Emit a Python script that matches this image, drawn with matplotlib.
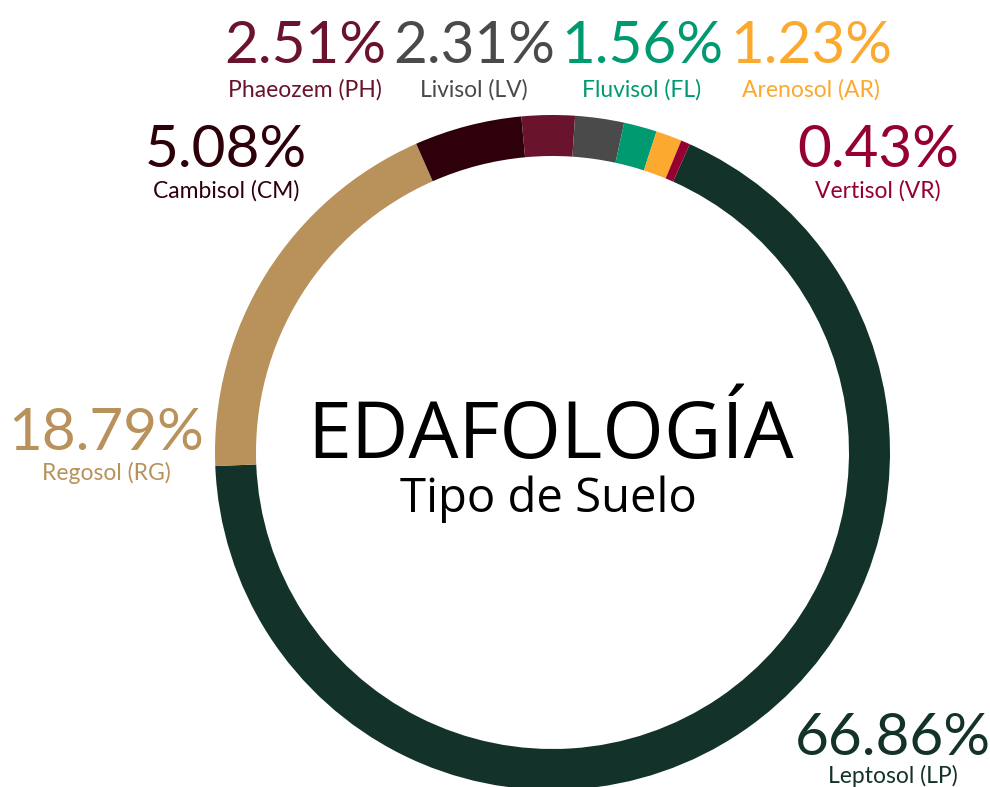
import matplotlib.pyplot as plt

# soil types, clockwise from the top right
soils = ["Leptosol (LP)", "Regosol (RG)", "Cambisol (CM)", "Phaeozem (PH)",
         "Livisol (LV)", "Fluvisol (FL)", "Arenosol (AR)", "Vertisol (VR)"]
shares = [66.86, 18.79, 5.08, 2.51, 2.31, 1.56, 1.23, 0.43]
colors = ["#12322a", "#b8915b", "#2e0009", "#69142c",
          "#4a4a4a", "#009a70", "#fba92f", "#950030"]

# label anchor (x center, baseline of the percent, baseline of the name) in pixels from top-left
label_pos = [(893, 755, 783), (106, 450, 480), (226, 167, 198), (305, 63, 97),
             (474, 63, 97), (642, 63, 97), (811, 63, 97), (878, 167, 198)]

W, H = 990, 787
fig = plt.figure(figsize=(W / 100, H / 100), dpi=100)
ax = fig.add_axes([0, 0, 1, 1])

cx, cy, r = 552.5, H - 452.5, 337.5
ax.pie(shares, colors=colors, radius=r, center=(cx, cy), startangle=66.0,
       counterclock=False, wedgeprops=dict(width=41, linewidth=0), frame=True)
ax.set_xlim(0, W)
ax.set_ylim(0, H)
ax.set_aspect("equal")
ax.axis("off")

font = "Lato"
for name, val, col, (x, yp, yn) in zip(soils, shares, colors, label_pos):
    ax.text(x, H - yp, f"{val:.2f}%", color=col, fontsize=42, family=font,
            ha="center", va="baseline")
    ax.text(x, H - yn, name, color=col, fontsize=16.5, family=font,
            ha="center", va="baseline")

ax.text(551, H - 458, "EDAFOLOGÍA", fontsize=57, family="Open Sans",
        ha="center", va="baseline", color="black")
ax.text(548, H - 512, "Tipo de Suelo", fontsize=34, family="Open Sans",
        ha="center", va="baseline", color="black")

plt.savefig("out.png", dpi=100)
